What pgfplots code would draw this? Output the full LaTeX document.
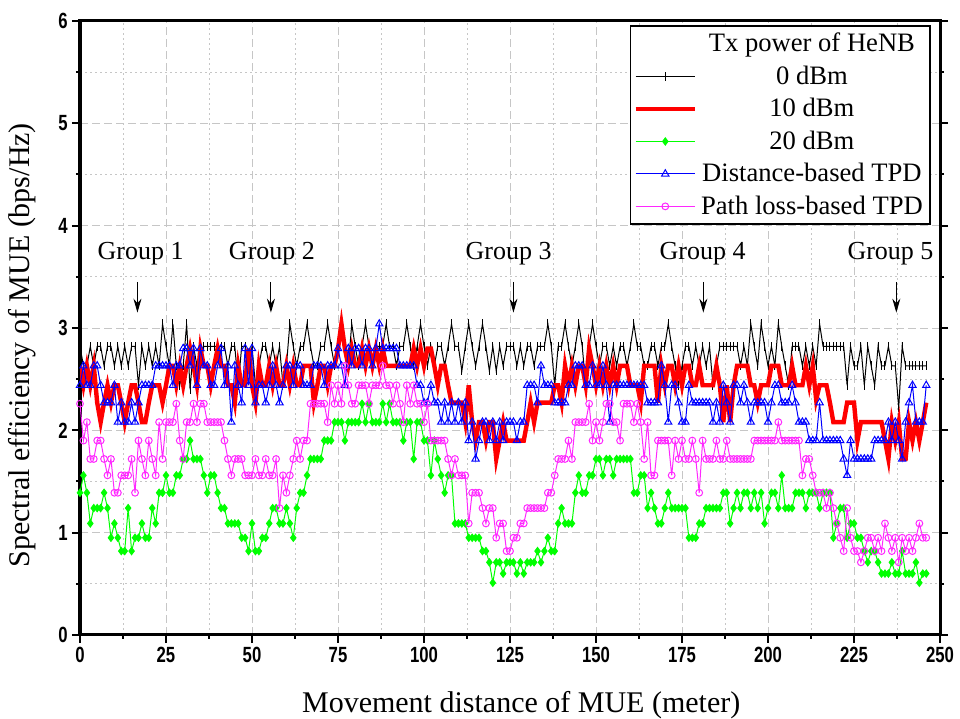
\documentclass[border=0pt]{standalone}
\usepackage{fontspec}
\setmainfont{Liberation Serif}
\newfontfamily\tickfont[FakeStretch=0.76]{Liberation Sans}
\usepackage{pgfplots}
\usepackage{pgfplotstable}
\pgfplotsset{compat=1.18}
\usetikzlibrary{arrows.meta}
\definecolor{mygreen}{RGB}{0,255,0}
\definecolor{mymag}{RGB}{255,40,255}

\pgfplotstableread{
x k r g b m
0 2.82 2.63 1.39 2.44 2.26
1 2.63 2.44 1.56 2.63 1.90
2 2.63 2.63 1.39 2.44 2.08
3 2.82 2.44 1.09 2.44 1.72
4 2.63 2.63 1.24 2.63 1.72
5 2.82 2.27 1.24 2.63 1.90
6 2.82 2.08 1.24 2.44 1.90
7 2.63 2.27 1.39 2.27 1.72
8 2.82 2.44 1.24 2.27 1.56
9 2.82 2.27 0.95 2.27 1.72
10 2.63 2.44 1.09 2.44 1.39
11 2.82 2.44 0.95 2.08 1.39
12 2.63 2.27 0.82 2.27 1.56
13 2.82 2.08 0.82 2.08 1.56
14 2.63 2.27 1.24 2.08 1.56
15 2.82 2.44 0.82 2.27 1.72
16 2.82 2.44 0.95 2.08 1.39
17 2.44 2.27 0.95 2.27 1.90
18 2.82 2.08 1.09 2.44 1.72
19 2.63 2.08 0.95 2.44 1.56
20 2.82 2.27 0.95 2.44 1.90
21 2.63 2.44 1.24 2.44 1.72
22 2.82 2.44 1.09 2.63 1.56
23 2.63 2.44 1.39 2.63 2.08
24 3.04 2.27 1.39 2.63 1.72
25 2.82 2.44 1.56 2.63 2.08
26 2.63 2.63 1.39 2.63 2.08
27 3.04 2.63 1.39 2.44 2.08
28 2.63 2.44 1.56 2.63 2.26
29 2.44 2.63 1.56 2.63 1.90
30 2.63 2.44 1.72 2.80 1.72
31 3.04 2.63 1.72 2.80 2.08
32 2.40 2.80 1.90 2.63 2.08
33 2.82 2.63 1.72 2.80 2.26
34 2.63 2.44 1.72 2.44 2.08
35 2.63 2.80 1.72 2.80 2.26
36 2.82 2.63 1.56 2.63 2.26
37 2.82 2.63 1.39 2.63 2.08
38 2.82 2.44 1.56 2.44 2.08
39 2.82 2.63 1.56 2.44 2.08
40 2.82 2.80 1.39 2.63 2.08
41 2.82 2.63 1.24 2.80 2.08
42 2.82 2.63 1.24 2.44 1.90
43 2.63 2.44 1.09 2.63 1.72
44 2.82 2.44 1.09 2.08 1.56
45 2.82 2.27 1.09 2.63 1.72
46 2.44 2.63 1.09 2.44 1.72
47 2.82 2.44 0.95 2.27 1.72
48 2.82 2.44 0.95 2.80 1.56
49 2.63 2.80 0.82 2.44 1.56
50 2.82 2.44 1.09 2.80 1.56
51 2.44 2.27 0.82 2.27 1.72
52 2.63 2.63 0.82 2.44 1.56
53 2.82 2.44 0.95 2.44 1.56
54 2.82 2.44 0.95 2.27 1.72
55 2.63 2.63 1.09 2.44 1.56
56 2.82 2.44 1.24 2.63 1.56
57 2.63 2.63 1.24 2.44 1.72
58 2.82 2.44 1.09 2.27 1.24
59 2.44 2.44 1.09 2.44 1.56
60 2.63 2.63 1.24 2.63 1.39
61 3.04 2.44 1.09 2.63 1.56
62 2.82 2.63 0.95 2.44 1.72
63 2.63 2.44 1.24 2.63 1.90
64 2.82 2.44 1.39 2.63 1.72
65 2.82 2.63 1.39 2.44 1.90
66 3.04 2.63 1.56 2.44 1.90
67 2.82 2.63 1.72 2.44 2.26
68 2.63 2.27 1.72 2.63 2.26
69 2.63 2.44 1.72 2.63 2.26
70 2.82 2.63 1.72 2.63 2.26
71 2.82 2.63 1.90 2.44 2.26
72 3.04 2.44 1.90 2.63 2.08
73 2.82 2.63 1.90 2.63 2.44
74 2.63 2.63 2.08 2.63 2.26
75 2.82 2.80 2.08 2.80 2.44
76 3.04 3.04 2.08 2.63 2.26
77 2.82 2.80 1.90 2.44 2.63
78 2.63 2.63 2.08 2.80 2.44
79 3.04 2.80 2.08 2.63 2.26
80 2.82 2.63 2.08 2.80 2.26
81 2.63 2.63 2.08 2.80 2.44
82 2.82 2.80 2.26 2.63 2.44
83 3.04 2.63 2.08 2.80 2.44
84 2.82 2.80 2.26 2.80 2.26
85 2.63 2.63 2.08 2.63 2.44
86 2.82 2.80 2.08 2.80 2.44
87 2.82 2.63 2.08 3.04 2.44
88 2.82 2.80 2.26 2.80 2.63
89 3.04 2.63 2.08 2.80 2.44
90 2.82 2.63 2.26 2.80 2.44
91 2.82 2.63 2.08 2.80 2.26
92 2.63 2.63 2.08 2.80 2.44
93 2.82 2.63 2.08 2.63 2.26
94 2.82 2.63 1.90 2.63 2.08
95 3.04 2.63 2.08 2.63 2.44
96 2.82 2.63 2.08 2.63 2.26
97 2.63 2.80 1.72 2.63 2.44
98 2.82 2.63 2.08 2.44 2.26
99 3.04 2.80 2.08 2.44 2.26
100 2.82 2.63 1.90 2.27 2.08
101 2.63 2.80 1.90 2.27 2.26
102 2.82 2.80 1.56 2.44 1.90
103 2.63 2.63 1.90 2.27 1.90
104 2.82 2.44 1.72 2.27 1.90
105 2.82 2.63 1.56 2.08 1.90
106 2.63 2.63 1.39 2.27 1.90
107 2.82 2.44 1.56 2.08 1.72
108 3.04 2.27 1.56 2.27 1.56
109 2.82 2.27 1.09 2.08 1.72
110 2.82 2.27 1.09 2.27 1.56
111 2.58 2.27 1.09 2.08 1.56
112 2.82 2.08 1.09 2.27 1.56
113 3.04 2.44 0.95 1.90 1.09
114 2.82 2.08 0.95 2.08 1.39
115 2.63 1.90 0.95 1.72 1.39
116 2.82 2.08 0.95 1.90 1.39
117 3.04 2.08 0.82 2.08 1.24
118 2.82 1.90 0.82 2.08 1.09
119 2.58 2.08 0.71 1.90 1.24
120 2.82 2.08 0.51 2.08 1.24
121 2.58 1.72 0.71 1.90 0.95
122 2.82 1.90 0.71 2.08 1.09
123 2.63 2.08 0.60 1.90 1.09
124 2.82 1.90 0.71 2.08 0.82
125 2.82 1.90 0.71 2.08 0.82
126 2.82 1.90 0.71 2.08 0.95
127 2.63 1.90 0.60 1.90 0.95
128 2.82 1.90 0.71 2.08 1.09
129 2.63 1.90 0.60 2.08 1.09
130 2.82 2.08 0.71 2.44 1.24
131 2.82 2.27 0.71 2.44 1.24
132 2.63 2.08 0.71 2.44 1.24
133 2.82 2.27 0.82 2.27 1.24
134 2.82 2.27 0.71 2.63 1.24
135 2.82 2.27 0.82 2.44 1.24
136 3.04 2.27 0.95 2.44 1.39
137 2.82 2.27 0.82 2.44 1.39
138 2.44 2.44 0.82 2.27 1.56
139 2.82 2.44 1.09 2.27 1.72
140 2.82 2.27 1.24 2.27 1.72
141 3.04 2.63 1.09 2.27 1.72
142 2.82 2.44 1.09 2.44 1.90
143 2.63 2.63 1.09 2.44 1.72
144 2.82 2.44 1.39 2.63 2.08
145 3.04 2.63 1.56 2.63 2.08
146 2.82 2.63 1.39 2.63 2.08
147 2.44 2.44 1.39 2.44 2.08
148 2.82 2.80 1.56 2.44 2.26
149 3.04 2.63 1.56 2.63 1.90
150 2.82 2.44 1.72 2.44 2.08
151 2.63 2.63 1.72 2.44 1.90
152 2.82 2.44 1.56 2.63 2.08
153 2.82 2.63 1.72 2.44 2.26
154 2.63 2.44 1.72 2.08 2.26
155 2.82 2.63 1.56 2.44 2.08
156 2.63 2.44 1.72 2.44 2.08
157 2.82 2.63 1.72 2.44 1.90
158 2.82 2.63 1.72 2.44 2.26
159 2.63 2.63 1.72 2.44 2.26
160 2.82 2.44 1.72 2.44 2.26
161 3.04 2.44 1.39 2.44 2.08
162 2.82 2.44 1.39 2.44 2.26
163 2.82 2.27 1.56 2.44 2.08
164 2.63 2.63 1.56 2.44 1.72
165 2.63 2.63 1.24 2.27 2.08
166 2.82 2.63 1.39 2.27 1.56
167 2.82 2.63 1.24 2.27 1.56
168 2.63 2.27 1.09 2.27 1.90
169 2.82 2.63 1.09 2.63 1.90
170 2.82 2.44 1.24 2.44 1.90
171 3.04 2.63 1.39 2.08 1.90
172 2.82 2.63 1.24 2.44 1.56
173 2.63 2.44 1.24 2.44 1.90
174 2.44 2.63 1.24 2.27 1.72
175 2.63 2.44 1.24 2.08 1.90
176 2.82 2.63 1.24 2.08 1.72
177 2.82 2.63 0.95 2.44 1.72
178 2.63 2.44 0.95 2.27 1.90
179 2.82 2.44 0.95 2.27 1.72
180 2.63 2.63 1.09 2.27 1.39
181 2.82 2.44 1.09 2.27 1.90
182 2.63 2.44 1.24 2.27 1.72
183 2.82 2.44 1.24 2.27 1.72
184 2.44 2.44 1.24 2.08 1.72
185 2.63 2.63 1.24 2.27 1.90
186 2.82 2.44 1.24 2.08 1.72
187 2.82 2.08 1.39 2.44 1.72
188 2.82 2.44 1.39 2.27 1.90
189 2.82 2.08 1.09 2.08 1.72
190 2.82 2.44 1.24 2.44 1.72
191 2.82 2.63 1.39 2.44 1.72
192 2.63 2.63 1.24 2.27 1.72
193 2.82 2.63 1.39 2.44 1.72
194 2.63 2.63 1.39 2.27 1.72
195 3.04 2.44 1.24 2.08 1.72
196 2.82 2.44 1.39 2.27 1.90
197 2.63 2.27 1.24 2.27 1.90
198 3.04 2.44 1.39 2.27 1.90
199 2.82 2.44 1.09 2.27 1.90
200 2.63 2.44 1.24 2.08 1.90
201 2.82 2.63 1.39 2.27 1.90
202 2.63 2.63 1.39 2.44 1.90
203 3.04 2.63 1.24 2.44 2.08
204 2.82 2.44 1.56 2.27 1.90
205 2.63 2.44 1.24 2.27 1.90
206 2.44 2.44 1.24 2.27 1.90
207 2.82 2.63 1.24 2.44 1.90
208 2.82 2.44 1.39 2.27 1.90
209 2.82 2.44 1.39 2.08 1.90
210 2.63 2.44 1.39 2.08 1.56
211 2.82 2.63 1.24 2.08 1.72
212 2.63 2.44 1.39 1.90 1.72
213 2.82 2.63 1.39 1.90 1.56
214 2.63 2.30 1.39 1.90 1.39
215 3.04 2.44 1.24 2.27 1.39
216 2.82 2.44 1.39 1.90 1.39
217 2.82 2.44 1.39 1.90 1.24
218 2.82 2.27 1.39 1.90 1.39
219 2.82 2.08 0.95 1.90 1.24
220 2.82 2.08 1.09 1.90 1.09
221 2.82 2.08 1.24 1.90 0.95
222 2.82 2.08 1.24 1.72 0.82
223 2.44 2.27 0.95 1.56 1.24
224 2.82 2.27 1.09 1.90 0.95
225 2.63 2.27 1.09 1.72 0.82
226 2.63 1.90 0.95 1.72 0.82
227 2.82 2.08 0.95 1.72 0.71
228 2.44 2.08 0.82 1.72 0.82
229 2.82 2.08 0.71 1.72 0.95
230 2.63 2.08 0.82 1.72 0.95
231 2.44 2.08 0.82 1.90 0.82
232 2.82 2.08 0.71 1.90 0.95
233 2.63 2.08 0.60 1.90 0.82
234 2.63 1.90 0.60 1.90 1.09
235 2.82 1.72 0.60 2.08 0.95
236 2.63 2.08 0.71 1.90 0.82
237 2.63 1.90 0.60 2.08 0.95
238 2.22 2.08 0.60 1.90 0.71
239 2.82 1.72 0.82 1.72 0.95
240 2.63 1.72 0.60 2.08 0.82
241 2.63 2.08 0.60 2.27 0.95
242 2.63 1.90 0.60 2.44 0.82
243 2.63 2.08 0.71 2.08 0.95
244 2.63 1.90 0.51 2.08 1.09
245 2.63 2.08 0.60 2.08 0.95
246 2.63 2.27 0.60 2.44 0.95
}\datatable

\begin{document}
\begin{tikzpicture}
\begin{axis}[
  name=main,
  scale only axis, width=430pt, height=307pt,
  xmin=0, xmax=250, ymin=0, ymax=6,
  xtick={0,25,...,250}, ytick={0,1,...,6},
  minor x tick num=1, minor y tick num=1,
  tick align=outside, xtick pos=lower, ytick pos=both,
  major tick length=4pt, minor tick length=2pt,
  every tick/.style={black, line width=1pt},
  axis line style={line width=1.5pt},
  grid=both,
  major grid style={gray!45, dash pattern=on 4pt off 2pt, line width=0.4pt},
  minor grid style={gray!45, dash pattern=on 1pt off 1.5pt, line width=0.4pt},
  /pgf/number format/assume math mode=true,
  ticklabel style={font=\fontsize{11}{13}\tickfont\bfseries},
  xticklabel style={inner sep=2pt},
  yticklabel style={inner sep=2pt},
  xlabel={Movement distance of MUE (meter)},
  ylabel={Spectral efficiency of MUE (bps/Hz)},
  label style={font=\fontsize{15}{18}\selectfont},
  xlabel style={at={([yshift=-35pt]axis description cs:0.513,0)}, anchor=center},
  ylabel style={at={([xshift=-29pt]axis description cs:0,0.472)}, anchor=center},
  clip mode=individual,
  legend cell align=center,
  legend style={at={(0.989,0.993)}, anchor=north east, draw=black, line width=0.8pt,
    font=\fontsize{13.3}{15}\selectfont, inner sep=1.5pt, row sep=1.5pt,
    /tikz/every even column/.append style={column sep=3pt}},
  legend image code/.code={\draw[mark repeat=2,mark phase=2] plot coordinates {(0cm,0cm) (0.52cm,0cm) (1.04cm,0cm)};},
]
\addlegendimage{empty legend}
\addlegendentry{Tx power of HeNB}
\addplot[black, line width=0.5pt, mark=|, mark size=2.2pt, mark options={solid, line width=0.5pt}] table[x=x,y=k]{\datatable};
\addlegendentry{0 dBm}
\addplot[red, line width=2.2pt, no markers] table[x=x,y=r]{\datatable};
\addlegendentry{10 dBm}
\addplot[mygreen, line width=0.5pt, mark=diamond*, mark size=1.8pt, mark options={solid}] table[x=x,y=g]{\datatable};
\addlegendentry{20 dBm}
\addplot[blue, line width=0.5pt, mark=triangle, mark size=2.1pt, mark options={solid}] table[x=x,y=b]{\datatable};
\addlegendentry{Distance-based TPD}
\addplot[mymag, line width=0.5pt, mark=o, mark size=1.7pt, mark options={solid}] table[x=x,y=m]{\datatable};
\addlegendentry{Path loss-based TPD}

\node[font=\fontsize{13}{15}\selectfont] at (axis cs:17.6,3.73) {Group 1};
\node[font=\fontsize{13}{15}\selectfont] at (axis cs:55.8,3.73) {Group 2};
\node[font=\fontsize{13}{15}\selectfont] at (axis cs:124.6,3.73) {Group 3};
\node[font=\fontsize{13}{15}\selectfont] at (axis cs:181,3.73) {Group 4};
\node[font=\fontsize{13}{15}\selectfont] at (axis cs:235.6,3.73) {Group 5};
\draw[-{Stealth[length=7pt,width=4pt]}, line width=0.5pt] (axis cs:16.7,3.45) -- (axis cs:16.7,3.15);
\draw[-{Stealth[length=7pt,width=4pt]}, line width=0.5pt] (axis cs:55.5,3.45) -- (axis cs:55.5,3.15);
\draw[-{Stealth[length=7pt,width=4pt]}, line width=0.5pt] (axis cs:126,3.45) -- (axis cs:126,3.15);
\draw[-{Stealth[length=7pt,width=4pt]}, line width=0.5pt] (axis cs:181.2,3.45) -- (axis cs:181.2,3.15);
\draw[-{Stealth[length=7pt,width=4pt]}, line width=0.5pt] (axis cs:237.3,3.45) -- (axis cs:237.3,3.15);
\end{axis}
\pgfresetboundingbox
\path[use as bounding box] ([xshift=-40pt,yshift=-42pt]main.south west) rectangle ([xshift=10pt,yshift=10.5pt]main.north east);
\end{tikzpicture}
\end{document}
